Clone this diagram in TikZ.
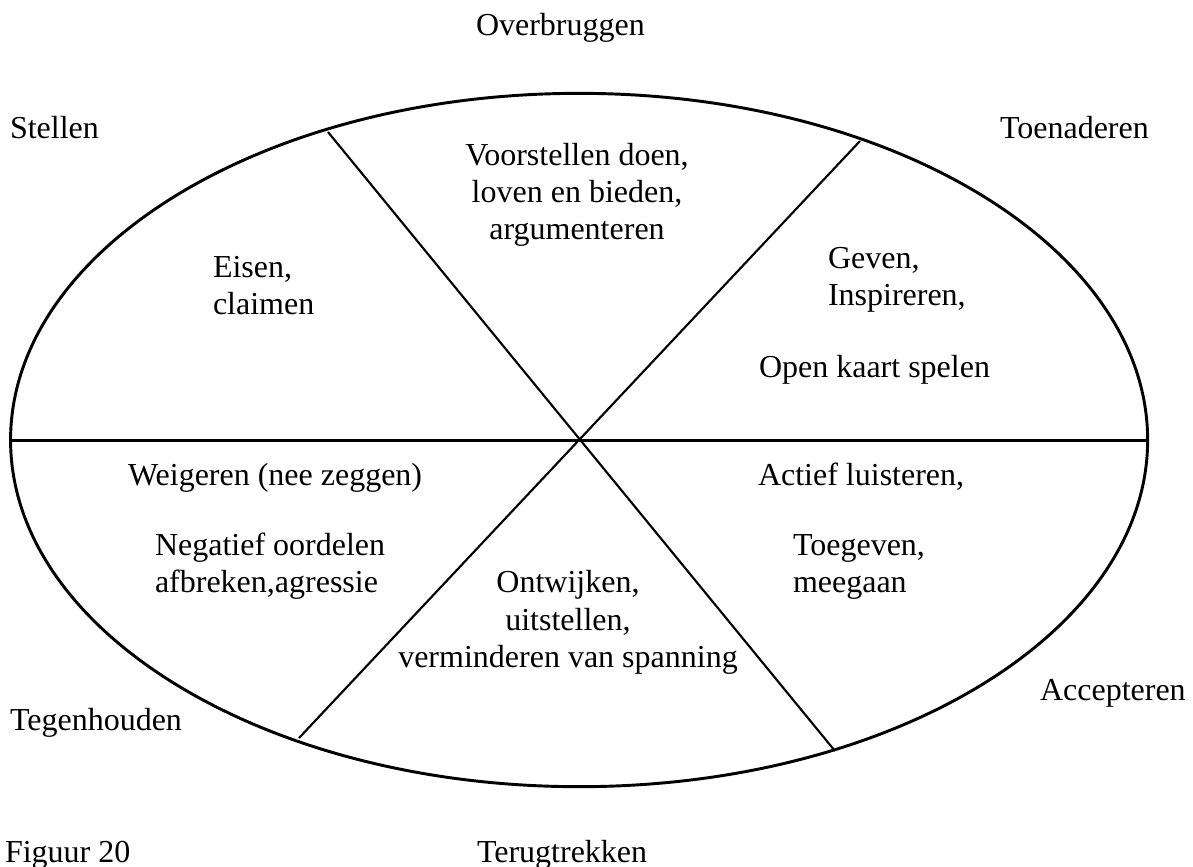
\documentclass[tikz,border=0pt]{standalone}
\usepackage{fontspec}
\setmainfont{Liberation Serif}
\begin{document}
\begin{tikzpicture}[x=0.375pt,y=-0.375pt,
  lbl/.style={inner sep=0pt,outer sep=0pt,font=\fontsize{12pt}{13.8pt}\selectfont},
  lw/.style={lbl,anchor=base west},
  lc/.style={lbl,anchor=base},
  rim/.style={line width=1.1pt},
  spoke/.style={line width=0.8pt}]
\useasboundingbox (0,0) rectangle (1193,866);

% outer ellipse
\draw[rim] (579.1,440) ellipse [x radius=213.2pt, y radius=130pt];

% spoke end points
\coordinate (hl) at (10.5,440.5);
\coordinate (hr) at (1147.7,440.5);
\coordinate (tl) at (328,132);
\coordinate (br) at (835,751);
\coordinate (tr) at (860,141);
\coordinate (bl) at (299,738);
\draw[spoke] (hl) -- (hr);
\draw[spoke] (tl) -- (br);
\draw[spoke] (tr) -- (bl);

% outer labels
\node[lw] (over) at (476,35) {Overbruggen};
\node[lw] (stel) at (10,138) {Stellen};
\node[lw] (toen) at (1000,138) {Toenaderen};
\node[lw] (acc) at (1040,700) {Accepteren};
\node[lw] (tegen) at (10,730) {Tegenhouden};
\node[lw] (fig) at (5,862) {Figuur 20};
\node[lw] (terug) at (477,862) {Terugtrekken};

% top sector
\node[lc] (v1) at (577,165) {Voorstellen doen,};
\node[lc] (v2) at (577,202) {loven en bieden,};
\node[lc] (v3) at (577,239) {argumenteren};

% upper left sector
\node[lw] (e1) at (213,277) {Eisen,};
\node[lw] (e2) at (213,314) {claimen};

% upper right sector
\node[lw] (g1) at (828,268) {Geven,};
\node[lw] (g2) at (828,305) {Inspireren,};
\node[lw] (g3) at (759,377) {Open kaart spelen};

% lower left sector
\node[lw] (w1) at (128,485) {Weigeren (nee zeggen)};
\node[lw] (w2) at (155,555) {Negatief oordelen};
\node[lw] (w3) at (155,592) {afbreken,agressie};

% lower right sector
\node[lw] (a1) at (758,485) {Actief luisteren,};
\node[lw] (a2) at (793,555) {Toegeven,};
\node[lw] (a3) at (793,592) {meegaan};

% bottom sector
\node[lc] (o1) at (568,592) {Ontwijken,};
\node[lc] (o2) at (568,630) {uitstellen,};
\node[lc] (o3) at (568,667) {verminderen van spanning};
\end{tikzpicture}
\end{document}
